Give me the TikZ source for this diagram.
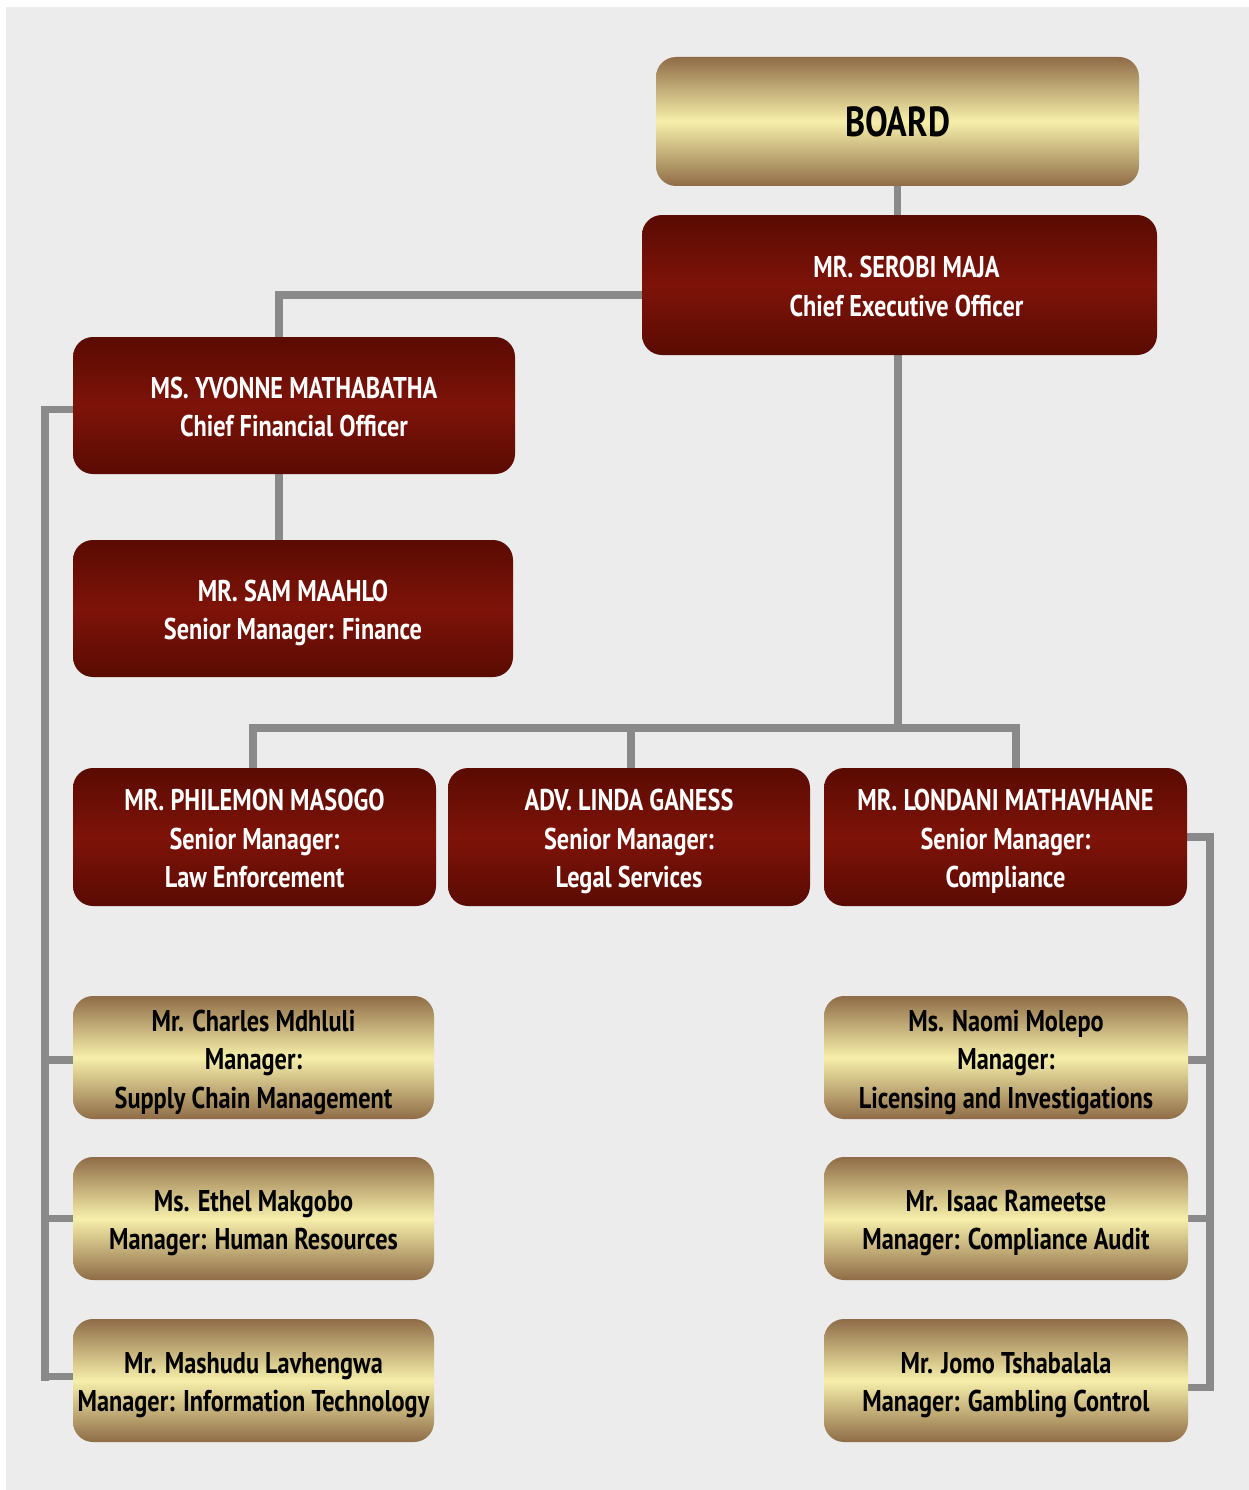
\documentclass[tikz,border=0pt]{standalone}
\usepackage{fontspec}
\setmainfont{PT Sans}[FakeStretch=0.81]
\usetikzlibrary{backgrounds}
\definecolor{rtop}{HTML}{5A0B02}
\definecolor{rmid}{HTML}{7E1309}
\definecolor{gtop}{HTML}{8F6C47}
\definecolor{gmid}{HTML}{F6EFAA}
\definecolor{linegray}{HTML}{8A8A8A}
\definecolor{bggray}{HTML}{ECECEC}
\newcommand{\boxtext}[1]{\raisebox{-4.5pt}[\height][\depth]{\begin{tabular}{@{}c@{}}#1\end{tabular}}}
\tikzset{
  box/.style={rounded corners=20pt, inner sep=0pt,
    font=\bfseries\fontsize{30}{38.5}\selectfont},
  redbox/.style={box, top color=rtop, bottom color=rtop, middle color=rmid, text=white},
  goldbox/.style={box, top color=gtop, bottom color=gtop, middle color=gmid, text=black},
  boardbox/.style={box, top color=gtop, bottom color=gtop, middle color=gmid, text=black,
    font=\bfseries\fontsize{42}{48}\selectfont},
  conn/.style={draw=linegray, line width=7.5pt}
}
\begin{document}
\begin{tikzpicture}[x=1pt,y=-1pt]
\useasboundingbox (0,0) rectangle (1249,1490);
% top
\node[boardbox, minimum width=483pt, minimum height=129pt] (board) at (897.5,121.5) {BOARD};
\node[redbox, minimum width=515pt, minimum height=140pt] (ceo) at (899.5,285) {\hspace*{14pt}\boxtext{MR. SEROBI MAJA\\Chief Executive Officer}};
\node[redbox, minimum width=442pt, minimum height=137pt] (cfo) at (294,405.5) {\boxtext{MS. YVONNE MATHABATHA\\Chief Financial Officer}};
\node[redbox, minimum width=440pt, minimum height=137pt] (sam) at (293,608.5) {\boxtext{MR. SAM MAAHLO\\Senior Manager: Finance}};
% senior managers
\node[redbox, minimum width=363pt, minimum height=138pt] (phil) at (254.5,837) {\boxtext{MR. PHILEMON MASOGO\\Senior Manager:\\Law Enforcement}};
\node[redbox, minimum width=362pt, minimum height=138pt] (linda) at (629,837) {\boxtext{ADV. LINDA GANESS\\Senior Manager:\\Legal Services}};
\node[redbox, minimum width=363pt, minimum height=138pt] (lond) at (1005.5,837) {\boxtext{MR. LONDANI MATHAVHANE\\Senior Manager:\\Compliance}};
% managers left
\node[goldbox, minimum width=361pt, minimum height=123pt] (charles) at (253.5,1057.5) {\boxtext{Mr. Charles Mdhluli\\Manager:\\Supply Chain Management}};
\node[goldbox, minimum width=361pt, minimum height=123pt] (ethel) at (253.5,1218.5) {\boxtext{Ms. Ethel Makgobo\\Manager: Human Resources}};
\node[goldbox, minimum width=361pt, minimum height=123pt] (mash) at (253.5,1380.5) {\boxtext{Mr. Mashudu Lavhengwa\\Manager: Information Technology}};
% managers right
\node[goldbox, minimum width=364pt, minimum height=123pt] (naomi) at (1006,1057.5) {\boxtext{Ms. Naomi Molepo\\Manager:\\Licensing and Investigations}};
\node[goldbox, minimum width=364pt, minimum height=123pt] (isaac) at (1006,1218.5) {\boxtext{Mr. Isaac Rameetse\\Manager: Compliance Audit}};
\node[goldbox, minimum width=364pt, minimum height=123pt] (jomo) at (1006,1380.5) {\boxtext{Mr. Jomo Tshabalala\\Manager: Gambling Control}};

\begin{pgfonlayer}{background}
\fill[white] (0,0) rectangle (1249,1490);
\fill[bggray] (6,7) rectangle (1249,1490);
\draw[conn] (board.south) -- (board.south |- ceo.north);
\draw[conn] ([yshift=-10pt]ceo.west) -| ([xshift=-15pt]cfo.north);
\draw[conn] ([xshift=-15pt]cfo.south) -- ([xshift=-15pt]cfo.south |- sam.north);
\coordinate (hub) at (898,728);
\draw[conn] ([xshift=-1.5pt]ceo.south) -- (hub);
\draw[conn] ([xshift=-1.5pt]phil.north) -- ++(0,-40) -| ([xshift=10.5pt]lond.north);
\draw[conn] ([xshift=2pt]linda.north) -- ++(0,-40);
% left bus
\coordinate (lb) at (45,0);
\draw[conn] ([yshift=-4pt]cfo.west) -| (lb |- mash.west) ++(0,-4) -- ([yshift=4pt]mash.west);
\draw[conn] ([yshift=-2.5pt]charles.west) -- ([yshift=-2.5pt]charles.west -| lb);
\draw[conn] (ethel.west) -- (ethel.west -| lb);
% right bus
\coordinate (rb) at (1210,0);
\draw[conn] (lond.east) -| ([yshift=-7pt]jomo.east -| rb) -- ([yshift=-7pt]jomo.east);
\draw[conn] ([yshift=-2.5pt]naomi.east) -- ([yshift=-2.5pt]naomi.east -| rb);
\draw[conn] (isaac.east) -- (isaac.east -| rb);
\end{pgfonlayer}
\end{tikzpicture}
\end{document}
